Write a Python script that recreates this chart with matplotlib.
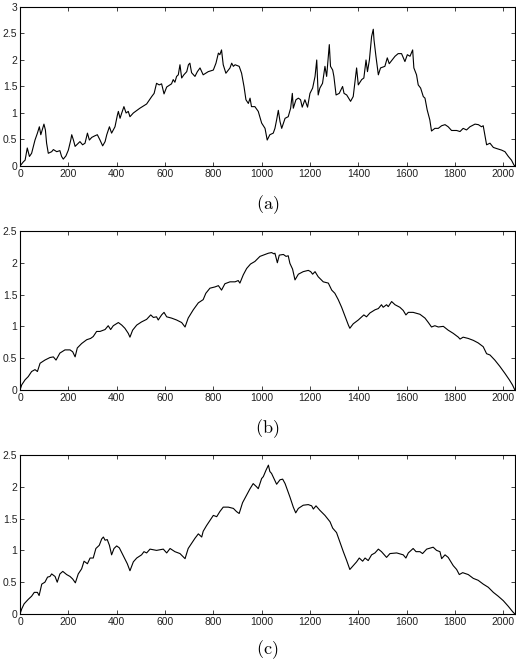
"""
Tre cammini (a), (b), (c) su [0, 2048]
"""

import matplotlib
matplotlib.use("Agg")
import matplotlib.pyplot as plt

plt.rcParams['font.family'] = ['Liberation Sans', 'DejaVu Sans']
plt.rcParams['mathtext.fontset'] = 'cm'

# dati
t_a = [0, 14, 21, 30, 39, 48, 62, 72, 80, 86, 92, 99, 105, 110, 117, 131, 138, 152, 165, 172,
       179, 190, 200, 210, 214, 221, 228, 241, 248, 259, 269, 279, 287, 297, 310, 320, 331, 342,
       352, 359, 370, 379, 393, 403, 407, 414, 421, 430, 439, 448, 455, 469, 496, 524, 545, 555,
       565, 576, 586, 596, 607, 627, 634, 641, 648, 655, 662, 669, 678, 690, 697, 703, 710, 724,
       734, 745, 758, 779, 800, 811, 821, 827, 834, 841, 852, 869, 876, 883, 890, 907, 917, 927,
       935, 945, 952, 958, 972, 986, 1000, 1014, 1023, 1034, 1048, 1055, 1062, 1069, 1076, 1083,
       1097, 1110, 1120, 1127, 1131, 1142, 1152, 1161, 1168, 1179, 1190, 1200, 1211, 1221, 1228,
       1234, 1241, 1252, 1262, 1269, 1276, 1280, 1285, 1294, 1299, 1308, 1321, 1335, 1341, 1352,
       1368, 1379, 1393, 1400, 1414, 1423, 1432, 1438, 1446, 1455, 1462, 1465, 1473, 1483, 1492,
       1510, 1520, 1528, 1552, 1565, 1579, 1593, 1603, 1614, 1625, 1630, 1641, 1648, 1658, 1669,
       1676, 1685, 1696, 1703, 1717, 1731, 1745, 1759, 1772, 1786, 1807, 1821, 1834, 1848, 1862,
       1883, 1897, 1910, 1917, 1931, 1945, 1959, 1972, 1993, 2007, 2021, 2034, 2044, 2048]
y_a = [0.0, 0.08, 0.11, 0.34, 0.18, 0.24, 0.49, 0.62, 0.74, 0.59, 0.68, 0.79, 0.68, 0.43, 0.24,
       0.27, 0.31, 0.27, 0.29, 0.18, 0.13, 0.19, 0.30, 0.49, 0.59, 0.49, 0.37, 0.43, 0.46, 0.40,
       0.43, 0.62, 0.49, 0.54, 0.57, 0.59, 0.49, 0.38, 0.46, 0.59, 0.74, 0.62, 0.74, 0.96, 1.03,
       0.90, 1.00, 1.12, 1.00, 1.03, 0.93, 1.00, 1.09, 1.17, 1.31, 1.37, 1.56, 1.53, 1.55, 1.36,
       1.49, 1.55, 1.63, 1.58, 1.69, 1.72, 1.91, 1.66, 1.72, 1.78, 1.91, 1.94, 1.76, 1.69, 1.78,
       1.85, 1.72, 1.78, 1.81, 1.94, 2.13, 2.10, 2.19, 1.91, 1.75, 1.85, 1.94, 1.88, 1.91, 1.88,
       1.75, 1.50, 1.25, 1.18, 1.28, 1.12, 1.12, 1.03, 0.81, 0.71, 0.49, 0.59, 0.62, 0.71, 0.87,
       1.05, 0.84, 0.71, 0.90, 0.93, 1.09, 1.37, 1.09, 1.25, 1.28, 1.25, 1.11, 1.25, 1.11, 1.37,
       1.47, 1.69, 2.00, 1.34, 1.47, 1.56, 1.88, 1.69, 2.07, 2.29, 1.88, 1.81, 1.69, 1.34, 1.37,
       1.50, 1.37, 1.34, 1.22, 1.31, 1.85, 1.53, 1.63, 1.66, 2.00, 1.78, 2.00, 2.44, 2.58, 2.38,
       2.07, 1.72, 1.85, 1.88, 2.04, 1.93, 2.07, 2.12, 2.12, 1.97, 2.10, 2.07, 2.19, 1.85, 1.72,
       1.53, 1.47, 1.31, 1.28, 1.06, 0.87, 0.66, 0.71, 0.71, 0.76, 0.78, 0.74, 0.67, 0.67, 0.65,
       0.71, 0.68, 0.74, 0.79, 0.78, 0.74, 0.76, 0.40, 0.43, 0.35, 0.33, 0.30, 0.27, 0.18, 0.11,
       0.02, 0.0]

t_b = [0, 7, 21, 34, 48, 62, 72, 83, 103, 124, 138, 149, 165, 186, 207, 218, 228, 237, 255,
       276, 292, 303, 317, 331, 352, 365, 375, 386, 407, 421, 434, 448, 455, 466, 483, 503, 524,
       541, 552, 565, 572, 586, 596, 607, 627, 648, 669, 683, 696, 717, 738, 758, 769, 786, 807,
       821, 834, 848, 869, 890, 903, 910, 924, 938, 954, 972, 993, 1007, 1028, 1041, 1051, 1055,
       1065, 1073, 1090, 1101, 1110, 1117, 1128, 1138, 1152, 1172, 1193, 1203, 1211, 1221, 1234,
       1255, 1276, 1290, 1303, 1317, 1331, 1345, 1359, 1365, 1379, 1400, 1414, 1423, 1434, 1448,
       1469, 1483, 1496, 1503, 1517, 1524, 1538, 1552, 1572, 1586, 1597, 1607, 1627, 1655, 1676,
       1690, 1703, 1717, 1731, 1752, 1772, 1793, 1814, 1821, 1834, 1855, 1876, 1896, 1917, 1931,
       1945, 1965, 1986, 2007, 2025, 2038, 2048]
y_b = [0.0, 0.08, 0.16, 0.21, 0.29, 0.32, 0.29, 0.42, 0.47, 0.51, 0.52, 0.47, 0.58, 0.63, 0.63,
       0.60, 0.52, 0.66, 0.73, 0.79, 0.81, 0.84, 0.92, 0.92, 0.95, 1.01, 0.95, 1.01, 1.06, 1.02,
       0.97, 0.89, 0.83, 0.94, 1.02, 1.07, 1.11, 1.18, 1.14, 1.15, 1.10, 1.18, 1.22, 1.15, 1.13,
       1.10, 1.06, 0.99, 1.13, 1.26, 1.37, 1.42, 1.52, 1.60, 1.62, 1.64, 1.57, 1.67, 1.70, 1.70,
       1.72, 1.68, 1.81, 1.91, 1.98, 2.02, 2.10, 2.12, 2.15, 2.16, 2.14, 2.15, 2.00, 2.12, 2.13,
       2.10, 2.11, 1.99, 1.90, 1.73, 1.82, 1.86, 1.88, 1.86, 1.82, 1.86, 1.78, 1.70, 1.68, 1.57,
       1.52, 1.42, 1.30, 1.16, 1.02, 0.97, 1.04, 1.10, 1.15, 1.18, 1.15, 1.21, 1.26, 1.28, 1.34,
       1.30, 1.34, 1.31, 1.39, 1.34, 1.30, 1.25, 1.18, 1.22, 1.22, 1.19, 1.13, 1.06, 0.99, 1.01,
       0.99, 1.00, 0.94, 0.89, 0.83, 0.80, 0.83, 0.81, 0.78, 0.74, 0.68, 0.57, 0.55, 0.47, 0.37,
       0.26, 0.16, 0.08, 0.0]

t_c = [0, 7, 17, 34, 48, 59, 72, 79, 90, 103, 114, 124, 131, 145, 154, 165, 177, 193, 207, 218,
       229, 241, 255, 265, 279, 290, 303, 314, 328, 338, 345, 352, 361, 370, 379, 389, 400, 411,
       427, 444, 455, 469, 483, 503, 513, 524, 538, 565, 593, 607, 621, 641, 662, 683, 696, 710,
       724, 738, 752, 758, 772, 786, 800, 814, 827, 841, 862, 883, 896, 907, 921, 938, 952, 965,
       979, 986, 1000, 1007, 1018, 1028, 1034, 1041, 1051, 1062, 1076, 1087, 1097, 1117, 1131,
       1141, 1152, 1172, 1193, 1207, 1214, 1225, 1241, 1262, 1283, 1294, 1310, 1324, 1338, 1352,
       1365, 1379, 1393, 1404, 1418, 1428, 1441, 1455, 1469, 1483, 1496, 1503, 1517, 1531, 1559,
       1586, 1597, 1607, 1627, 1639, 1655, 1666, 1683, 1710, 1724, 1738, 1745, 1759, 1772, 1793,
       1807, 1818, 1832, 1855, 1876, 1896, 1917, 1938, 1959, 1979, 2000, 2021, 2038, 2048]
y_c = [0.0, 0.08, 0.16, 0.23, 0.28, 0.34, 0.34, 0.29, 0.47, 0.50, 0.58, 0.59, 0.63, 0.59, 0.50,
       0.63, 0.67, 0.62, 0.59, 0.55, 0.49, 0.63, 0.71, 0.83, 0.79, 0.88, 0.88, 1.03, 1.08, 1.18,
       1.21, 1.16, 1.17, 1.08, 0.93, 1.03, 1.07, 1.04, 0.92, 0.79, 0.68, 0.82, 0.88, 0.93, 0.98,
       0.96, 1.02, 1.00, 1.02, 0.96, 1.03, 0.98, 0.95, 0.87, 1.03, 1.11, 1.19, 1.26, 1.21, 1.30,
       1.39, 1.47, 1.55, 1.53, 1.61, 1.68, 1.68, 1.66, 1.61, 1.58, 1.75, 1.87, 1.97, 2.05, 2.00,
       1.97, 2.13, 2.16, 2.26, 2.34, 2.24, 2.21, 2.13, 2.04, 2.11, 2.12, 2.05, 1.84, 1.68, 1.59,
       1.66, 1.71, 1.72, 1.70, 1.65, 1.70, 1.63, 1.55, 1.45, 1.35, 1.28, 1.13, 0.98, 0.84, 0.70,
       0.76, 0.82, 0.88, 0.83, 0.88, 0.84, 0.93, 0.96, 1.02, 0.98, 0.95, 0.89, 0.95, 0.96, 0.93,
       0.88, 0.96, 1.03, 0.98, 0.98, 0.95, 1.02, 1.05, 1.00, 0.98, 0.87, 0.93, 0.89, 0.76, 0.70,
       0.62, 0.65, 0.62, 0.56, 0.53, 0.47, 0.42, 0.34, 0.28, 0.21, 0.12, 0.04, 0.0]

series = [(t_a, y_a, 3, [0, 0.5, 1, 1.5, 2, 2.5, 3], "(a)"),
          (t_b, y_b, 2.5, [0, 0.5, 1, 1.5, 2, 2.5], "(b)"),
          (t_c, y_c, 2.5, [0, 0.5, 1, 1.5, 2, 2.5], "(c)")]
xticks = [0, 200, 400, 600, 800, 1000, 1200, 1400, 1600, 1800, 2000]

fig = plt.figure(figsize=(5.16, 6.64), dpi=100)
bottoms = [0.750, 0.4127, 0.0753]
cap_y = [-0.245, -0.245, -0.225]

for (t, y, ymax, yticks, lab), b, cy in zip(series, bottoms, cap_y):
    ax = fig.add_axes([0.0388, b, 0.959, 0.2395])
    ax.plot(t, y, color='black', lw=0.8)
    ax.set_xlim(0, 2048)
    ax.set_ylim(0, ymax)
    ax.set_xticks(xticks)
    ax.set_yticks(yticks)
    ax.set_yticklabels([f"{v:g}" for v in yticks])
    ax.tick_params(direction='in', top=True, right=True, labelsize=7.5,
                   length=3, width=0.6, pad=2, colors='#222222')
    for s in ax.spines.values():
        s.set_linewidth(0.8)
    ax.text(0.5, cy, r"$\mathrm{" + lab + "}$", transform=ax.transAxes,
            ha='center', va='center', fontsize=13)

fig.savefig('out.png', dpi=100)
